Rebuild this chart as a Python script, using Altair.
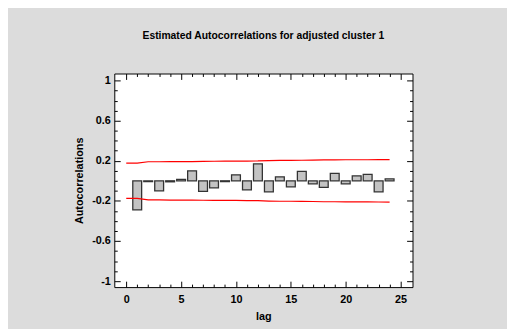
import altair as alt
import pandas as pd

# ---- data ----
LAGS = list(range(1, 25))
ACF = [-0.29, -0.008, -0.10, -0.01, 0.015, 0.10, -0.105, -0.07, -0.008, 0.06,
       -0.09, 0.17, -0.11, 0.04, -0.06, 0.095, -0.03, -0.065, 0.075, -0.03,
       0.05, 0.065, -0.11, 0.02]

LIMIT_LAGS = list(range(0, 25))
UPPER = [0.176, 0.176, 0.190, 0.190, 0.192, 0.192, 0.192, 0.194, 0.195, 0.196,
         0.196, 0.197, 0.198, 0.202, 0.204, 0.204, 0.205, 0.206, 0.209, 0.209,
         0.210, 0.210, 0.210, 0.211, 0.212]
LOWER = [-v for v in UPPER]

X_TICKS = [0, 1, 2, 3, 4, 5, 6, 7, 8, 9, 10, 11, 12, 13, 14, 15, 16, 17, 18,
           19, 20, 21, 22, 23, 24, 25]
Y_TICKS = [-1.0, -0.9, -0.8, -0.7, -0.6, -0.5, -0.4, -0.3, -0.2, -0.1, 0.0,
           0.1, 0.2, 0.3, 0.4, 0.5, 0.6, 0.7, 0.8, 0.9, 1.0]

TITLE = "Estimated Autocorrelations for adjusted cluster 1"
X_TITLE = "lag"
Y_TITLE = "Autocorrelations"

FONT = "Liberation Sans"

bars_df = pd.DataFrame({"lag": LAGS, "acf": ACF})
lines_df = pd.concat([
    pd.DataFrame({"lag": LIMIT_LAGS, "limit": UPPER, "side": "upper"}),
    pd.DataFrame({"lag": LIMIT_LAGS, "limit": LOWER, "side": "lower"}),
])

x_scale = alt.Scale(domain=[-0.64, 25.64], nice=False, zero=False)
y_scale = alt.Scale(domain=[-1.06, 1.07], nice=False, zero=False)

Y_MAJOR = "abs(round(datum.value*10)) % 4 == 2"
X_MAJOR = "datum.value % 5 == 0"


def x_axis(orient, labels):
    kw = dict(
        orient=orient, values=X_TICKS, domain=False, grid=False,
        tickSize={"condition": {"test": X_MAJOR, "value": -6}, "value": -3},
        tickColor="black", tickWidth=1, labelOverlap=False, labelFlush=False,
    )
    if labels:
        kw.update(
            labelExpr=f"{X_MAJOR} ? datum.label : ''",
            labelFont=FONT, labelFontSize=11, labelFontWeight="bold",
            labelColor="black", labelPadding=13,
            title=X_TITLE, titleFont=FONT, titleFontSize=11,
            titleFontWeight="bold", titleColor="black", titlePadding=3,
        )
    else:
        kw.update(labels=False, title=None)
    return alt.Axis(**kw)


def y_axis(orient, labels):
    kw = dict(
        orient=orient, values=Y_TICKS, domain=False, grid=False,
        tickSize={"condition": {"test": Y_MAJOR, "value": -6}, "value": -3},
        tickColor="black", tickWidth=1, labelOverlap=False, labelFlush=False,
    )
    if labels:
        kw.update(
            labelExpr=(f"{Y_MAJOR} ? (datum.value < 0 ? '-' : '') + "
                       "format(abs(datum.value), '~g') : ''"),
            labelFont=FONT, labelFontSize=11, labelFontWeight="bold",
            labelColor="black", labelPadding=10,
            title=Y_TITLE, titleFont=FONT, titleFontSize=11,
            titleFontWeight="bold", titleColor="black", titlePadding=7,
        )
    else:
        kw.update(labels=False, title=None)
    return alt.Axis(**kw)


bars = alt.Chart(bars_df).mark_bar(
    size=9, fill="#c3c3c3", stroke="#333333", strokeWidth=1.3
).encode(
    x=alt.X("lag:Q", scale=x_scale, axis=x_axis("bottom", True)),
    y=alt.Y("acf:Q", scale=y_scale, axis=y_axis("left", True)),
    y2=alt.datum(0),
)

lines = alt.Chart(lines_df).mark_line(color="#ff0000", strokeWidth=1.2).encode(
    x=alt.X("lag:Q", scale=x_scale, axis=x_axis("top", False)),
    y=alt.Y("limit:Q", scale=y_scale, axis=y_axis("right", False)),
    detail="side:N",
)

chart = alt.layer(bars, lines).resolve_axis(
    x="independent", y="independent"
).properties(
    width=303,
    height=217,
    autosize=alt.AutoSizeParams(type="none"),
    padding={"left": 108, "top": 64, "right": 96, "bottom": 40},
    background="#dcdcdc",
    title=alt.TitleParams(
        TITLE, font=FONT, fontSize=10.5, fontWeight="bold", color="black",
        anchor="middle", frame="group", offset=32,
    ),
).configure_view(
    fill="white", stroke="black", strokeWidth=1
)

chart.save("out.html", embed_options={"renderer": "svg", "actions": False})
